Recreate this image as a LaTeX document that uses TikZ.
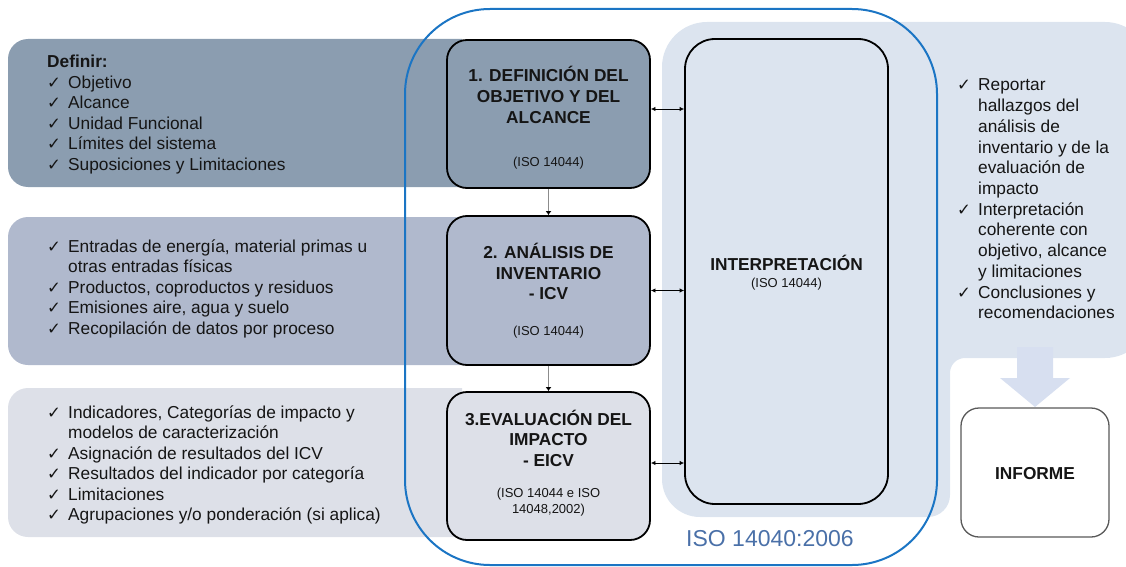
\documentclass[tikz,border=0pt]{standalone}
\usepackage{fontspec}
\setmainfont{Liberation Sans}
\newfontfamily\ckfont{DejaVu Sans}
\usetikzlibrary{arrows.meta}

\definecolor{bandA}{HTML}{8B9DB0}
\definecolor{bandB}{HTML}{B0B9CD}
\definecolor{bandC}{HTML}{DDE0E8}
\definecolor{paleblue}{HTML}{DCE4EF}
\definecolor{arrowblue}{HTML}{D7DFF0}
\definecolor{isoblue}{HTML}{1B75C4}
\definecolor{isotext}{HTML}{4A70A8}
\definecolor{ink}{HTML}{151515}

% check mark used in the lists
\newcommand\ck{{\ckfont\fontsize{16.5}{16.5}\selectfont ✓}}

\begin{document}
\begin{tikzpicture}[x=1pt,y=-1pt,
  txt/.style={inner sep=0pt, text=ink, font=\fontsize{17.3}{20.5}\selectfont},
  ttl/.style={inner sep=0pt, text=ink, font=\bfseries\fontsize{17.3}{20.7}\selectfont},
  small/.style={inner sep=0pt, text=ink, font=\fontsize{13}{16.5}\selectfont},
  procbox/.style={draw=black, line width=1.8pt, rounded corners=20pt, inner sep=0pt,
    minimum width=203pt},
  link/.style={line width=0.8pt, {Latex[length=4.5pt,width=4.5pt]}-{Latex[length=4.5pt,width=4.5pt]}},
  flow/.style={draw=black!45, line width=1pt, -{Latex[length=4pt,width=6pt,color=black]}},
  band/.style={rounded corners=20pt}
]
\path[use as bounding box] (0,0) rectangle (1126,567);
\clip (0,0) rectangle (1126,567);

% phase bands on the left, square on the side hidden by the boxes
\fill[bandA] (462,39) -- (100,39) [band] -- (8,39) -- (8,187) [sharp corners] -- (100,187) -- (462,187) -- cycle;
\fill[bandB] (462,217) -- (100,217) [band] -- (8,217) -- (8,365) [sharp corners] -- (100,365) -- (462,365) -- cycle;
\fill[bandC] (462,388) -- (100,388) [band] -- (8,388) -- (8,537) [sharp corners] -- (100,537) -- (462,537) -- cycle;

% pale background behind interpretation and report
\fill[paleblue] (662,300) [rounded corners=45pt] -- (662,22) -- (1150,22)
  -- (1150,358) [rounded corners=15pt] -- (950,358) [rounded corners=22pt]
  -- (950,517) [rounded corners=38pt] -- (662,517) -- cycle;

% ISO 14040 frame
\draw[isoblue, line width=2pt, rounded corners=85pt] (405,9) rectangle (937,565);

% arrow towards the report
\fill[arrowblue] (1017,347) -- (1053,347) -- (1053,378) -- (1070,378)
  -- (1035,407) -- (1000,378) -- (1017,378) -- cycle;

% process boxes
\node[procbox, fill=bandA, minimum height=148pt] (b1) at (548.5,114) {};
\node[procbox, fill=bandB, minimum height=149pt] (b2) at (548.5,290.5) {};
\node[procbox, fill=bandC, minimum height=148pt] (b3) at (548.5,466) {};
\node[procbox, fill=paleblue, rounded corners=30pt, minimum height=465pt] (ip) at (786.5,271.5) {};
\node[draw=black!65, line width=1.3pt, rounded corners=18pt, fill=white,
  minimum width=148pt, minimum height=129pt, inner sep=0pt] (inf) at (1035,472.5) {};

% connectors
\draw[flow] (b1.south) -- (b2.north);
\draw[flow] (b2.south) -- (b3.north);
\draw[link] ([yshift=5pt]b1.east) -- ([yshift=5pt]b1.east -| ip.west);
\draw[link] (b2.east) -- (b2.east -| ip.west);
\draw[link] ([yshift=3pt]b3.east) -- ([yshift=3pt]b3.east -| ip.west);

% box titles
\node[ttl, anchor=base] (t1) at (548.5,82) {\begin{tabular}[t]{@{}c@{}}1. DEFINICIÓN DEL\\OBJETIVO Y DEL\\ALCANCE\end{tabular}};
\node[small, anchor=base] (s1) at (548.5,166) {(ISO 14044)};
\node[ttl, anchor=base] (t2) at (548.5,258.5) {\begin{tabular}[t]{@{}c@{}}2. ANÁLISIS DE\\INVENTARIO\\- ICV\end{tabular}};
\node[small, anchor=base] (s2) at (548.5,335) {(ISO 14044)};
\node[ttl, anchor=base] (t3) at (548.5,425) {\begin{tabular}[t]{@{}c@{}}3.EVALUACIÓN DEL\\IMPACTO\\- EICV\end{tabular}};
\node[small, anchor=base] (s3) at (548.5,497) {\begin{tabular}[t]{@{}c@{}}(ISO 14044 e ISO\\14048,2002)\end{tabular}};
\node[ttl, anchor=base] (ti) at (786.5,270) {INTERPRETACIÓN};
\node[small, anchor=base] (si) at (786.5,287) {(ISO 14044)};
\node[ttl, anchor=base] (tinf) at (1035,479) {INFORME};

% lists
\node[txt, anchor=base west] (l1) at (47,68) {\begin{tabular}[t]{@{}p{21pt}@{}l@{}}
\multicolumn{2}{@{}l@{}}{\textbf{Definir:}}\\
\ck & Objetivo\\
\ck & Alcance\\
\ck & Unidad Funcional\\
\ck & Límites del sistema\\
\ck & Suposiciones y Limitaciones
\end{tabular}};
\node[txt, anchor=base west] (l2) at (47,252) {\begin{tabular}[t]{@{}p{21pt}@{}l@{}}
\ck & Entradas de energía, material primas u\\
 & otras entradas físicas\\
\ck & Productos, coproductos y residuos\\
\ck & Emisiones aire, agua y suelo\\
\ck & Recopilación de datos por proceso
\end{tabular}};
\node[txt, anchor=base west] (l3) at (47,418) {\begin{tabular}[t]{@{}p{21pt}@{}l@{}}
\ck & Indicadores, Categorías de impacto y\\
 & modelos de caracterización\\
\ck & Asignación de resultados del ICV\\
\ck & Resultados del indicador por categoría\\
\ck & Limitaciones\\
\ck & Agrupaciones y/o ponderación (si aplica)
\end{tabular}};
\node[txt, anchor=base west, font=\fontsize{17.3}{20.7}\selectfont] (l4) at (957,91) {\begin{tabular}[t]{@{}p{21pt}@{}l@{}}
\ck & Reportar\\
 & hallazgos del\\
 & análisis de\\
 & inventario y de la\\
 & evaluación de\\
 & impacto\\
\ck & Interpretación\\
 & coherente con\\
 & objetivo, alcance\\
 & y limitaciones\\
\ck & Conclusiones y\\
 & recomendaciones
\end{tabular}};

% standard label
\node[inner sep=0pt, anchor=base, text=isotext, font=\fontsize{23}{26}\selectfont] (iso) at (770,546) {ISO 14040:2006};
\end{tikzpicture}
\end{document}
